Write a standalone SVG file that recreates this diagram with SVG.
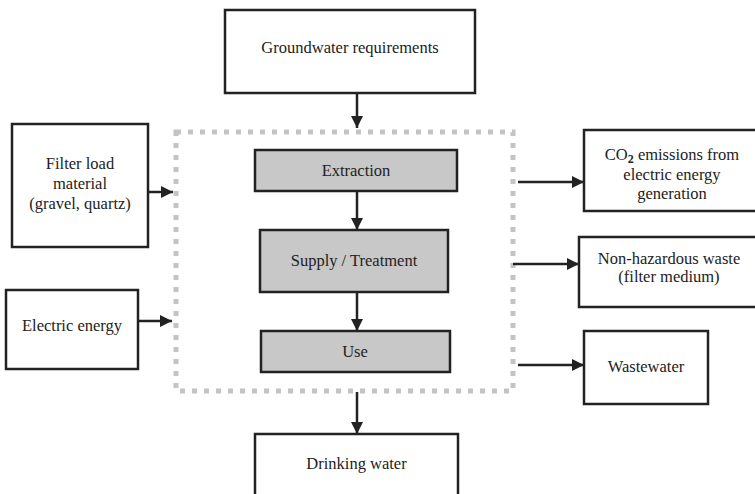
<svg xmlns="http://www.w3.org/2000/svg" width="755" height="494" viewBox="0 0 755 494">
<style>
.box{fill:#fff;stroke:#222;stroke-width:2.5}
.proc{fill:#c8c8c8;stroke:#222;stroke-width:2.5}
.bound{fill:none;stroke:#c4c4c4;stroke-width:5;stroke-dasharray:5 7}
.t{font-family:"Liberation Serif","Times New Roman",serif;font-size:16.5px;fill:#222;text-anchor:middle}
.c{stroke:#222;stroke-width:2.5;fill:none;marker-end:url(#ah)}
</style>
<defs>
<marker id="ah" markerUnits="userSpaceOnUse" markerWidth="12" markerHeight="12" refX="12" refY="6" orient="auto">
<path d="M0,0 L12,6 L0,12 z" fill="#222"/>
</marker>
</defs>
<rect width="755" height="494" fill="#fff"/>
<rect id="boundary" class="bound" x="176" y="132" width="337" height="259"/>
<g id="groundwater"><rect class="box" x="225" y="10" width="250" height="83"/><text class="t" x="350" y="53">Groundwater requirements</text></g>
<g id="extraction"><rect class="proc" x="255" y="150" width="202" height="41"/><text class="t" x="356" y="176">Extraction</text></g>
<g id="supply"><rect class="proc" x="260" y="230" width="188" height="62"/><text class="t" x="354" y="266">Supply / Treatment</text></g>
<g id="use"><rect class="proc" x="261" y="331" width="189" height="41"/><text class="t" x="355" y="357">Use</text></g>
<g id="drinking"><rect class="box" x="255" y="434" width="203" height="70"/><text class="t" x="356.5" y="469">Drinking water</text></g>
<g id="filter"><rect class="box" x="12" y="124" width="136" height="123"/><text class="t" x="80" y="169">Filter load</text><text class="t" x="80" y="189">material</text><text class="t" x="80" y="209">(gravel, quartz)</text></g>
<g id="electric"><rect class="box" x="6" y="290" width="132" height="79"/><text class="t" x="72" y="331">Electric energy</text></g>
<g id="co2"><rect class="box" x="584" y="130" width="180" height="81"/><text class="t" x="672" y="160">CO<tspan font-size="12" font-weight="bold" dy="3">2</tspan><tspan dy="-3"> emissions from</tspan></text><text class="t" x="672" y="180">electric energy</text><text class="t" x="672" y="199">generation</text></g>
<g id="waste"><rect class="box" x="579" y="237" width="185" height="70"/><text class="t" x="669" y="264">Non-hazardous waste</text><text class="t" x="669" y="282">(filter medium)</text></g>
<g id="wastewater"><rect class="box" x="584" y="331" width="124" height="73"/><text class="t" x="646" y="372">Wastewater</text></g>
<g id="connectors">
<line class="c" x1="357" y1="93" x2="357" y2="128"/>
<line class="c" x1="357" y1="191" x2="357" y2="230"/>
<line class="c" x1="357" y1="292" x2="357" y2="331"/>
<line class="c" x1="357" y1="392" x2="357" y2="434"/>
<line class="c" x1="148" y1="192" x2="173" y2="192"/>
<line class="c" x1="138" y1="321" x2="172" y2="321"/>
<line class="c" x1="518" y1="182" x2="584" y2="182"/>
<line class="c" x1="513" y1="264" x2="579" y2="264"/>
<line class="c" x1="518" y1="365" x2="584" y2="365"/>
</g>
</svg>
